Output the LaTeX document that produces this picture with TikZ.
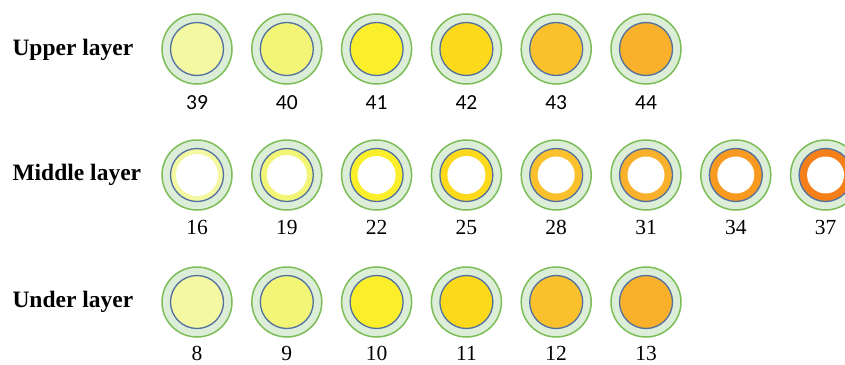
\documentclass[tikz,border=0pt]{standalone}
\usepackage{fontspec}
\setmainfont{Liberation Serif}
\newfontfamily\numsans{Carlito}
\definecolor{ringgreen}{HTML}{7CBD58}
\definecolor{palegreen}{HTML}{DCEED8}
\definecolor{coreblue}{HTML}{52709F}
\definecolor{ca}{HTML}{F5F8A2}
\definecolor{cb}{HTML}{F3F577}
\definecolor{cc}{HTML}{FBEF2C}
\definecolor{cd}{HTML}{FDD91B}
\definecolor{ce}{HTML}{FBC12C}
\definecolor{cf}{HTML}{F9B02A}
\definecolor{cg}{HTML}{F79A1F}
\definecolor{ch}{HTML}{F5801A}
\begin{document}
\begin{tikzpicture}[x=1pt,y=-1pt,
  outerring/.style={circle, draw=ringgreen, fill=palegreen, line width=1.5pt, minimum size=70pt, inner sep=0pt},
  corecirc/.style={circle, draw=coreblue, line width=1.3pt, minimum size=53pt, inner sep=0pt},
  holecirc/.style={circle, fill=white, minimum size=#1, inner sep=0pt},
  rowlabel/.style={anchor=west, font=\fontsize{23.5}{27}\selectfont\bfseries},
  numsanslbl/.style={font=\numsans\fontsize{21.5}{24}\selectfont},
  numseriflbl/.style={font=\fontsize{21.5}{24}\selectfont}]
\useasboundingbox (0,0) rectangle (845,364);
\clip (0,0) rectangle (845,364);

\node[rowlabel] (lu) at (9,50) {Upper layer};
\node[rowlabel] (lm) at (9,175) {Middle layer};
\node[rowlabel] (ll) at (9,302) {Under layer};

% upper row
\foreach \i/\c/\t in {0/ca/39,1/cb/40,2/cc/41,3/cd/42,4/ce/43,5/cf/44}{
  \node[outerring] (u\i) at (197+89.8*\i,49) {};
  \node[corecirc, fill=\c] (uc\i) at (u\i) {};
  \node[numsanslbl] (ut\i) at (197+89.8*\i,102.5) {\t};
}

% middle row
\foreach \i/\c/\t/\h in {0/ca/16/42pt,1/cb/19/40pt,2/cc/22/38pt,3/cd/25/38pt,4/ce/28/37pt,5/cf/31/37pt,6/cg/34/37pt,7/ch/37/37pt}{
  \node[outerring] (m\i) at (197+89.8*\i,175) {};
  \node[corecirc, fill=\c] (mc\i) at (m\i) {};
  \node[holecirc=\h] (mh\i) at (m\i) {};
  \node[numseriflbl] (mt\i) at (197+89.8*\i,227.5) {\t};
}

% under row
\foreach \i/\c/\t in {0/ca/8,1/cb/9,2/cc/10,3/cd/11,4/ce/12,5/cf/13}{
  \node[outerring] (d\i) at (197+89.8*\i,302) {};
  \node[corecirc, fill=\c] (dc\i) at (d\i) {};
  \node[numseriflbl] (dt\i) at (197+89.8*\i,353) {\t};
}
\end{tikzpicture}
\end{document}
